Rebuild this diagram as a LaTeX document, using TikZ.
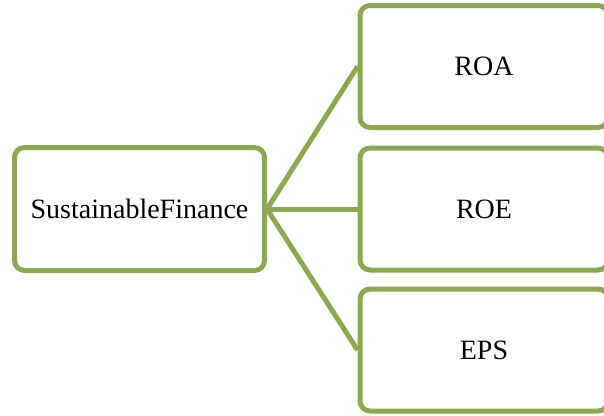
\documentclass[tikz,border=0pt]{standalone}
\usepackage{fontspec}
\setmainfont{Liberation Serif}
\definecolor{olive}{RGB}{141,168,82}
\begin{document}
\begin{tikzpicture}[x=1pt,y=-1pt,
  box/.style={draw=olive,line width=5pt,rounded corners=10pt,fill=white,inner sep=0pt,font=\fontsize{28}{32}\selectfont},
  link/.style={draw=olive,line width=5pt}]
\useasboundingbox (0,0) rectangle (604,415);
\begin{scope}
\clip (0,0) rectangle (604,415);
\node[box,minimum width=250pt,minimum height=123pt] (sf) at (139.5,209) {SustainableFinance};
\node[box,minimum width=248pt,minimum height=122pt] (roa) at (484,66.5) {ROA};
\node[box,minimum width=248pt,minimum height=122pt] (roe) at (484,209) {ROE};
\node[box,minimum width=248pt,minimum height=122pt] (eps) at (484,350) {EPS};
\draw[link] (sf.east) -- (roa.west);
\draw[link] (sf.east) -- (roe.west);
\draw[link] (sf.east) -- (eps.west);
\end{scope}
\end{tikzpicture}
\end{document}
